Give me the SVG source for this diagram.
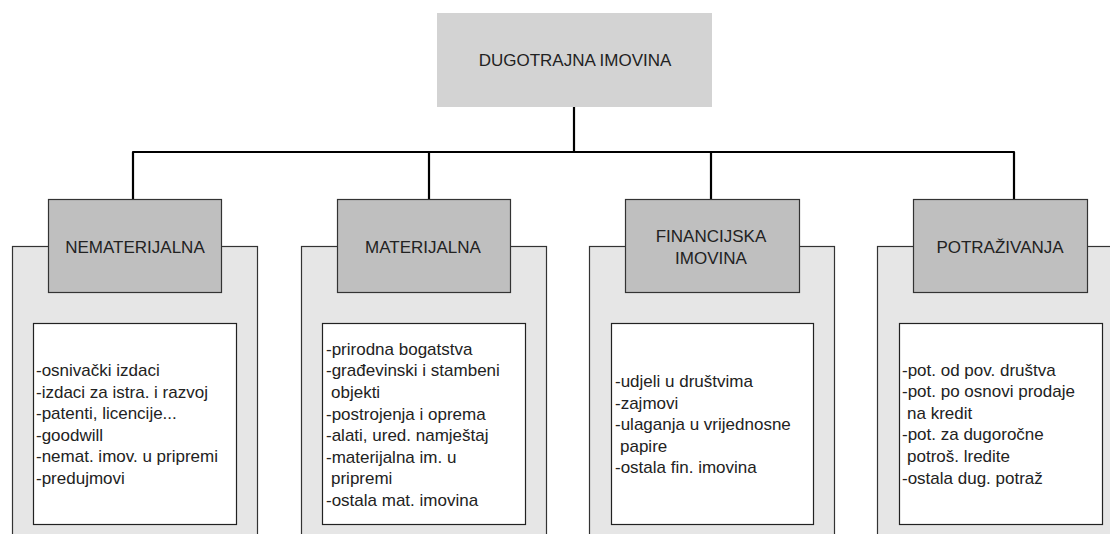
<svg xmlns="http://www.w3.org/2000/svg" width="1110" height="534" viewBox="0 0 1110 534">
<style>
text{font-family:"Liberation Sans",Arial,sans-serif;font-size:17px;fill:#222}
.top{fill:#d3d3d3;stroke:none}
.cont{fill:#e6e6e6;stroke:#333;stroke-width:1.2}
.head{fill:#bfbfbf;stroke:#333;stroke-width:1.2}
.list{fill:#fff;stroke:#222;stroke-width:1.2}
.conn{fill:none;stroke:#000;stroke-width:2.2;stroke-linejoin:round}
.c{text-anchor:middle}
</style>
<rect width="1110" height="534" fill="#fff"/>
<g id="connectors">
<path class="conn" d="M574,107 V152"/>
<path class="conn" d="M133,199 V152 H1014 V199"/>
<path class="conn" d="M429,152 V199"/>
<path class="conn" d="M711,152 V199"/>
</g>
<g id="root">
<rect class="top" x="437" y="13" width="275" height="94"/>
<text class="c" x="575" y="66">DUGOTRAJNA IMOVINA</text>
</g>
<g id="nematerijalna">
<rect class="cont" x="12.5" y="246.5" width="245" height="300"/>
<rect class="head" x="48.5" y="199.5" width="173" height="93"/>
<text class="c" x="135" y="253">NEMATERIJALNA</text>
<rect class="list" x="33.5" y="323.5" width="203" height="201"/>
<text x="36" y="376">-osnivački izdaci</text>
<text x="36" y="397.6">-izdaci za istra. i razvoj</text>
<text x="36" y="419.2">-patenti, licencije...</text>
<text x="36" y="440.8">-goodwill</text>
<text x="36" y="462.4">-nemat. imov. u pripremi</text>
<text x="36" y="484">-predujmovi</text>
</g>
<g id="materijalna">
<rect class="cont" x="301.5" y="246.5" width="245" height="300"/>
<rect class="head" x="337.5" y="199.5" width="173" height="93"/>
<text class="c" x="423" y="253">MATERIJALNA</text>
<rect class="list" x="322.5" y="323.5" width="203" height="201"/>
<text x="326" y="354.8">-prirodna bogatstva</text>
<text x="326" y="376.4">-građevinski i stambeni</text>
<text x="331" y="398">objekti</text>
<text x="326" y="419.6">-postrojenja i oprema</text>
<text x="326" y="441.2">-alati, ured. namještaj</text>
<text x="326" y="462.8">-materijalna im. u</text>
<text x="331" y="484.4">pripremi</text>
<text x="326" y="506">-ostala mat. imovina</text>
</g>
<g id="financijska">
<rect class="cont" x="589.5" y="246.5" width="245" height="300"/>
<rect class="head" x="625.5" y="199.5" width="174" height="93"/>
<text class="c" x="711" y="242">FINANCIJSKA</text>
<text class="c" x="711" y="263.6">IMOVINA</text>
<rect class="list" x="611.5" y="323.5" width="202" height="201"/>
<text x="615" y="387">-udjeli u društvima</text>
<text x="615" y="408.6">-zajmovi</text>
<text x="615" y="430.2">-ulaganja u vrijednosne</text>
<text x="620" y="451.8">papire</text>
<text x="615" y="473.4">-ostala fin. imovina</text>
</g>
<g id="potrazivanja">
<rect class="cont" x="877.5" y="246.5" width="245" height="300"/>
<rect class="head" x="913.5" y="199.5" width="174" height="93"/>
<text class="c" x="1000" y="253">POTRAŽIVANJA</text>
<rect class="list" x="899.5" y="323.5" width="203" height="201"/>
<text x="902" y="375.5">-pot. od pov. društva</text>
<text x="902" y="397.1">-pot. po osnovi prodaje</text>
<text x="907" y="418.7">na kredit</text>
<text x="902" y="440.3">-pot. za dugoročne</text>
<text x="907" y="461.9">potroš. lredite</text>
<text x="902" y="483.5">-ostala dug. potraž</text>
</g>
</svg>
